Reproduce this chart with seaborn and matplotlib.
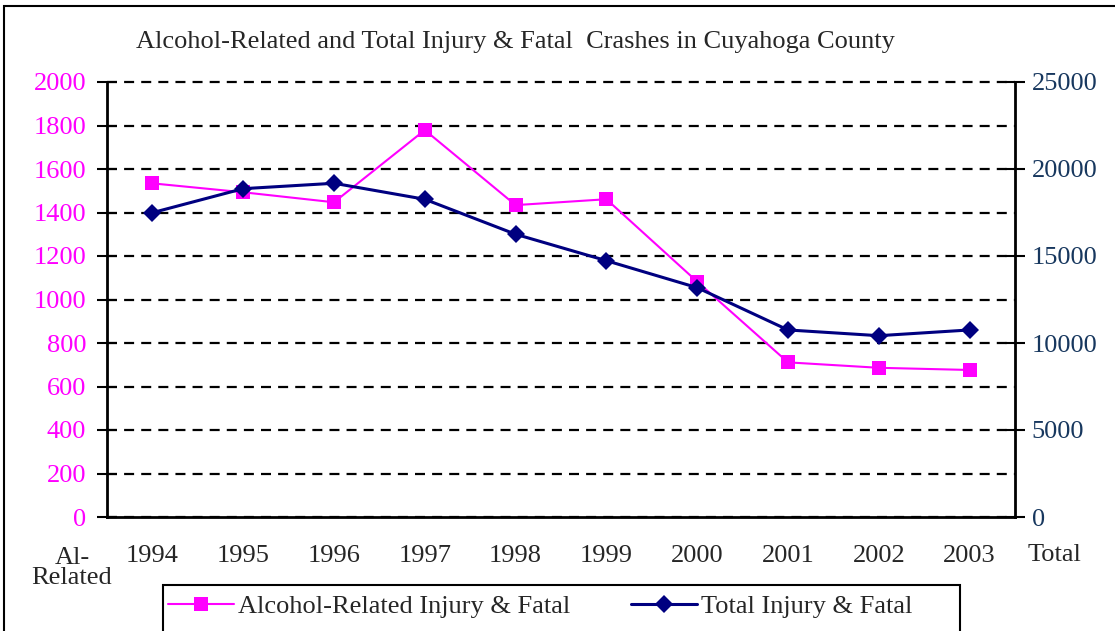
import matplotlib
matplotlib.use("Agg")
import matplotlib.pyplot as plt
import seaborn as sns
import pandas as pd
from matplotlib.patches import Rectangle
from matplotlib.lines import Line2D

# ---- data ----
years = [1994, 1995, 1996, 1997, 1998, 1999, 2000, 2001, 2002, 2003]
alcohol_related = [1534, 1493, 1447, 1779, 1434, 1461, 1082, 711, 686, 676]
total_injury = [17490, 18870, 19180, 18260, 16250, 14730, 13180, 10750, 10420, 10750]
left_ticks = [0, 200, 400, 600, 800, 1000, 1200, 1400, 1600, 1800, 2000]
right_ticks = [0, 5000, 10000, 15000, 20000, 25000]
title = "Alcohol-Related and Total Injury & Fatal  Crashes in Cuyahoga County"
series_names = ["Alcohol-Related Injury & Fatal", "Total Injury & Fatal"]

PINK = "#FF00FF"
NAVY = "#000080"
RIGHT_LABEL = "#17375E"
FS = 19

sns.set_style("white")
plt.rcParams['font.family'] = ['Liberation Serif', 'DejaVu Serif']

W, H = 1115, 631
fig = plt.figure(figsize=(W / 100, H / 100), dpi=100)
ax = fig.add_axes([107 / W, 1 - 517 / H, 908 / W, 435 / H])

df = pd.DataFrame({"Year": years, "Alcohol": alcohol_related, "Total": total_injury})

sns.lineplot(data=df, x="Year", y="Alcohol", ax=ax, color=PINK, marker="s",
             markersize=10.5, markeredgewidth=0, linewidth=1.5, zorder=3)
ax2 = ax.twinx()
sns.lineplot(data=df, x="Year", y="Total", ax=ax2, color=NAVY, marker="D",
             markersize=9.5, markeredgewidth=0, linewidth=2.2, zorder=3)

ax.set_xlim(years[0] - 0.5, years[-1] + 0.5)
ax.set_ylim(left_ticks[0], left_ticks[-1])
ax2.set_ylim(right_ticks[0], right_ticks[-1])
ax.set_xlabel("")
ax.set_ylabel("")
ax2.set_ylabel("")

# x ticks: labels at categories, tick marks at boundaries
ax.set_xticks(years)
ax.set_xticklabels([str(y) for y in years], fontsize=FS)
ax.set_xticks([y - 0.5 for y in years] + [years[-1] + 0.5], minor=True)
ax.tick_params(axis="x", which="major", length=0, pad=20)
ax.tick_params(axis="x", which="minor", direction="inout", length=20, width=1.5, color="black")

ax.set_yticks(left_ticks)
ax.set_yticklabels([str(v) for v in left_ticks], fontsize=FS, color=PINK)
ax.tick_params(axis="y", direction="inout", length=14, width=1.5, color="black", pad=8)

ax2.set_yticks(right_ticks)
ax2.set_yticklabels([str(v) for v in right_ticks], fontsize=FS, color=RIGHT_LABEL)
ax2.tick_params(axis="y", direction="inout", length=14, width=1.5, color="black", pad=5)

# grid
ax.set_axisbelow(True)
ax.yaxis.grid(True, color="black", linestyle=(0, (4.5, 3.2)), linewidth=1.6)
ax.xaxis.grid(False)
for gl in ax.get_ygridlines():
    gl.set_clip_on(False)

for a in (ax, ax2):
    a.spines["top"].set_visible(False)
    for s in ("left", "right", "bottom"):
        a.spines[s].set_color("black")
        a.spines[s].set_linewidth(2)
ax2.spines["left"].set_visible(False)
ax2.spines["bottom"].set_visible(False)
ax.spines["right"].set_visible(False)

# title and axis captions
fig.text(515 / W, 1 - 42 / H, title, ha="center", va="center", fontsize=FS)
fig.text(72 / W, 1 - 568 / H, "Al-\nRelated", ha="center", va="center", fontsize=FS, linespacing=0.92)
fig.text(1055 / W, 1 - 555 / H, "Total", ha="center", va="center", fontsize=FS)

# legend
handles = [
    Line2D([], [], color=PINK, marker="s", markersize=10.5, markeredgewidth=0, linewidth=1.5),
    Line2D([], [], color=NAVY, marker="D", markersize=9.5, markeredgewidth=0, linewidth=2.2),
]
fig.legend(handles, series_names, loc="center left", bbox_to_anchor=(168 / W, 1 - 606 / H),
           ncol=2, frameon=False, fontsize=FS, handlelength=2.5, handletextpad=0.15,
           columnspacing=2.3, borderaxespad=0, borderpad=0)
fig.patches.append(Rectangle((163 / W, -0.1), (960 - 163) / W, 0.1 + 46 / H,
                             transform=fig.transFigure, fill=False, edgecolor="black",
                             linewidth=1.5, clip_on=False))
# outer chart border
fig.patches.append(Rectangle((4 / W, -0.1), 1.2, 0.1 + 1 - 6 / H,
                             transform=fig.transFigure, fill=False, edgecolor="black",
                             linewidth=1.5, clip_on=False))

fig.savefig("out.png", dpi=100)
